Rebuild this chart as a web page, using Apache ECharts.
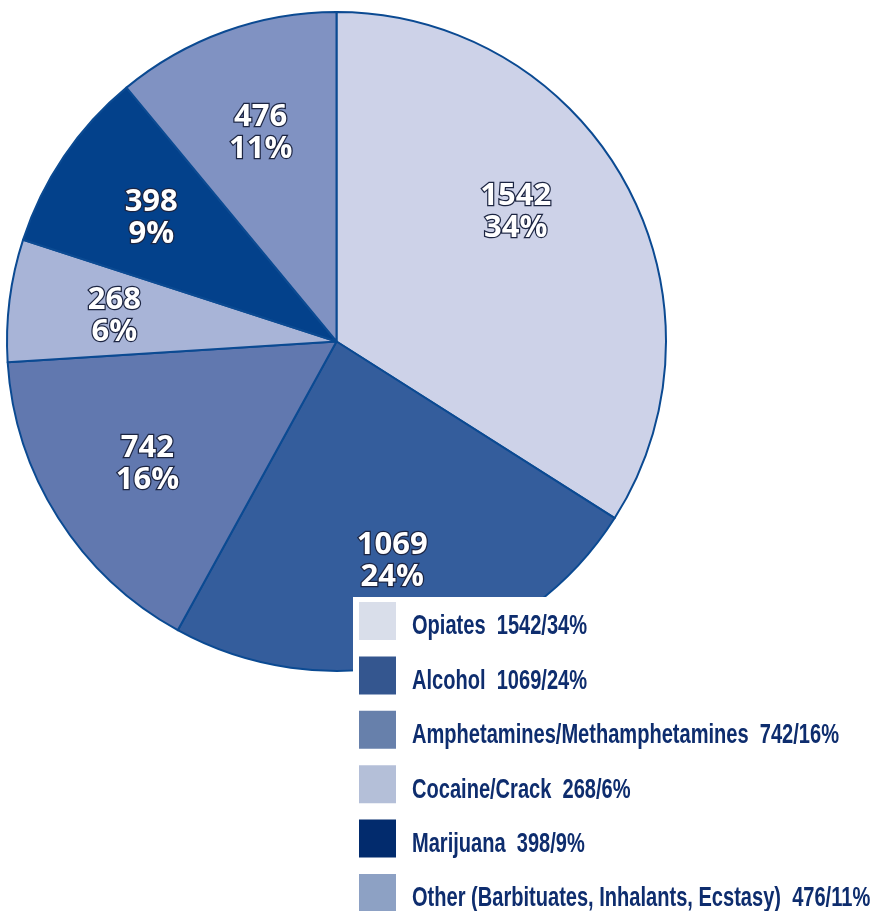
<!DOCTYPE html>
<html>
<head>
<meta charset="utf-8">
<script src="https://cdn.jsdelivr.net/npm/echarts@6/dist/echarts.min.js"></script>
<style>
html,body{margin:0;padding:0;background:#fff;}
#chart{width:893px;height:911px;}
</style>
</head>
<body>
<div id="chart"></div>
<script>
// Substance categories, admission counts and their share of all admissions
const categories = ['Opiates', 'Alcohol', 'Amphetamines/Methamphetamines', 'Cocaine/Crack', 'Marijuana', 'Other (Barbituates, Inhalants, Ecstasy)'];
const counts = [1542, 1069, 742, 268, 398, 476];
const percents = [34, 24, 16, 6, 9, 11];

// Slice fills and the (slightly different) legend swatch fills
const sliceColors = ['#cdd2e8', '#345d9c', '#6178af', '#a8b4d7', '#03418b', '#8092c2'];
const swatchColors = ['#d9deea', '#34568f', '#6780ab', '#b4bfd8', '#022b6d', '#8da1c4'];

const cx = 336.5, cy = 341.5, R = 329.5;

// Slices are sized by the rounded percentage shown in each label
const pieData = categories.map((name, i) => ({
  name: name,
  value: percents[i],
  count: counts[i],
  itemStyle: { color: sliceColors[i] }
}));

// Small nudge for the first label, which sits a bit above its slice's centre line
const labelNudge = { 'Opiates': [-17, -24] };

const labelData = pieData.map(d => ({
  name: d.name,
  value: d.value,
  count: d.count,
  label: labelNudge[d.name] ? { offset: labelNudge[d.name] } : {}
}));

// Legend block: white panel with square swatches and condensed bold captions
const legendLeft = 359, legendTop = 602, swatchW = 37, swatchH = 38, rowStep = 54.4;
const legendGraphics = [{
  type: 'rect',
  z: 10,
  silent: true,
  shape: { x: 353, y: 597, width: 540, height: 314 },
  style: { fill: '#ffffff' }
}];
categories.forEach((name, i) => {
  const top = legendTop + i * rowStep;
  legendGraphics.push({
    type: 'rect',
    z: 11,
    silent: true,
    shape: { x: legendLeft, y: top, width: swatchW, height: swatchH },
    style: { fill: swatchColors[i] }
  });
  legendGraphics.push({
    type: 'text',
    z: 11,
    silent: true,
    x: 412,
    y: top + 25,
    scaleX: 0.743,
    style: {
      text: name + '  ' + counts[i] + '/' + percents[i] + '%',
      font: 'bold 27px "Liberation Sans", Arial, sans-serif',
      fill: '#0e2d6e',
      verticalAlign: 'middle',
      align: 'left'
    }
  });
});

const chart = echarts.init(document.getElementById('chart'));
chart.setOption({
  animation: false,
  backgroundColor: '#fff',
  graphic: legendGraphics,
  series: [
    {
      type: 'pie',
      center: [cx, cy],
      radius: [0, R],
      startAngle: 90,
      clockwise: true,
      z: 2,
      silent: true,
      label: { show: false },
      labelLine: { show: false },
      itemStyle: { borderColor: '#0b4a92', borderWidth: 2 },
      data: pieData
    },
    {
      // Transparent ring that places the value labels at about two thirds of the radius
      type: 'pie',
      center: [cx, cy + 2.5],
      radius: [112.5, R],
      startAngle: 90,
      clockwise: true,
      z: 3,
      silent: true,
      itemStyle: { color: 'rgba(0,0,0,0)', borderWidth: 0 },
      labelLine: { show: false },
      label: {
        show: true,
        position: 'inside',
        formatter: function (p) { return p.data.count + '\n' + p.value + '%'; },
        fontFamily: '"Open Sans", sans-serif',
        fontWeight: 'bold',
        fontSize: 31,
        lineHeight: 32.5,
        color: '#ffffff',
        textBorderColor: '#1c2542',
        textBorderWidth: 2.5
      },
      data: labelData
    }
  ]
});
</script>
</body>
</html>
